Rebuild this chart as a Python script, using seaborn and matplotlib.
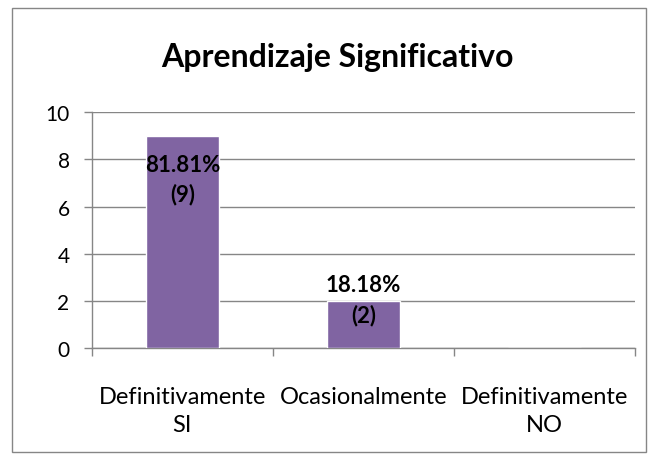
import matplotlib
matplotlib.use("Agg")
import matplotlib.pyplot as plt
import seaborn as sns
import pandas as pd
from matplotlib.patches import Rectangle

categories = ["Definitivamente\nSI", "Ocasionalmente", "Definitivamente\nNO"]
values = [9, 2, 0]
labels = ["81.81%\n(9)", "18.18%\n(2)", ""]

sns.set_theme(style="white")
plt.rcParams["font.family"] = ["Lato", "DejaVu Sans"]

df = pd.DataFrame({"cat": categories, "val": values})

fig = plt.figure(figsize=(6.56, 4.6), dpi=100)
ax = fig.add_axes([0.140, 0.241, 0.828, 0.513])
sns.barplot(data=df, x="cat", y="val", color="#8064A2", saturation=1, width=0.4, ax=ax, zorder=3)

ax.set_ylim(0, 10)
ax.set_xlim(-0.5, 2.5)
ax.set_yticks([0, 2, 4, 6, 8, 10])
ax.yaxis.grid(True, color="#868686", linewidth=1, zorder=0)
ax.set_axisbelow(True)
for s in ["top", "right"]:
    ax.spines[s].set_visible(False)
for s in ["left", "bottom"]:
    ax.spines[s].set_color("#868686")
    ax.spines[s].set_linewidth(1)
ax.set_xlabel("")
ax.set_ylabel("")
ax.set_xticks([0, 1, 2])
ax.set_xticklabels(categories, fontsize=17, color="black", linespacing=1.45)
ax.tick_params(axis="x", length=0, pad=27)
ax.tick_params(axis="y", labelsize=15, colors="black", length=6, width=1, color="#868686", direction="out", left=True, pad=10)
ax.set_xticks([-0.5, 0.5, 1.5, 2.5], minor=True)
ax.tick_params(axis="x", which="minor", length=6, width=1, color="#868686", direction="out", bottom=True)

for i, (v, lab) in enumerate(zip(values, labels)):
    if lab:
        y = max(v, 3.9) - 1.85
        ax.text(i, y, lab, ha="center", va="center", fontsize=16, fontweight="bold",
                color="black", linespacing=1.45, zorder=5)

fig.text(0.515, 0.876, "Aprendizaje Significativo", ha="center", va="center",
         fontsize=23, fontweight="bold", color="black")

fig.patches.append(Rectangle((0.018, 0.015), 0.966, 0.965, transform=fig.transFigure,
                             fill=False, edgecolor="#868686", linewidth=1))

fig.savefig("out.png", dpi=100)
